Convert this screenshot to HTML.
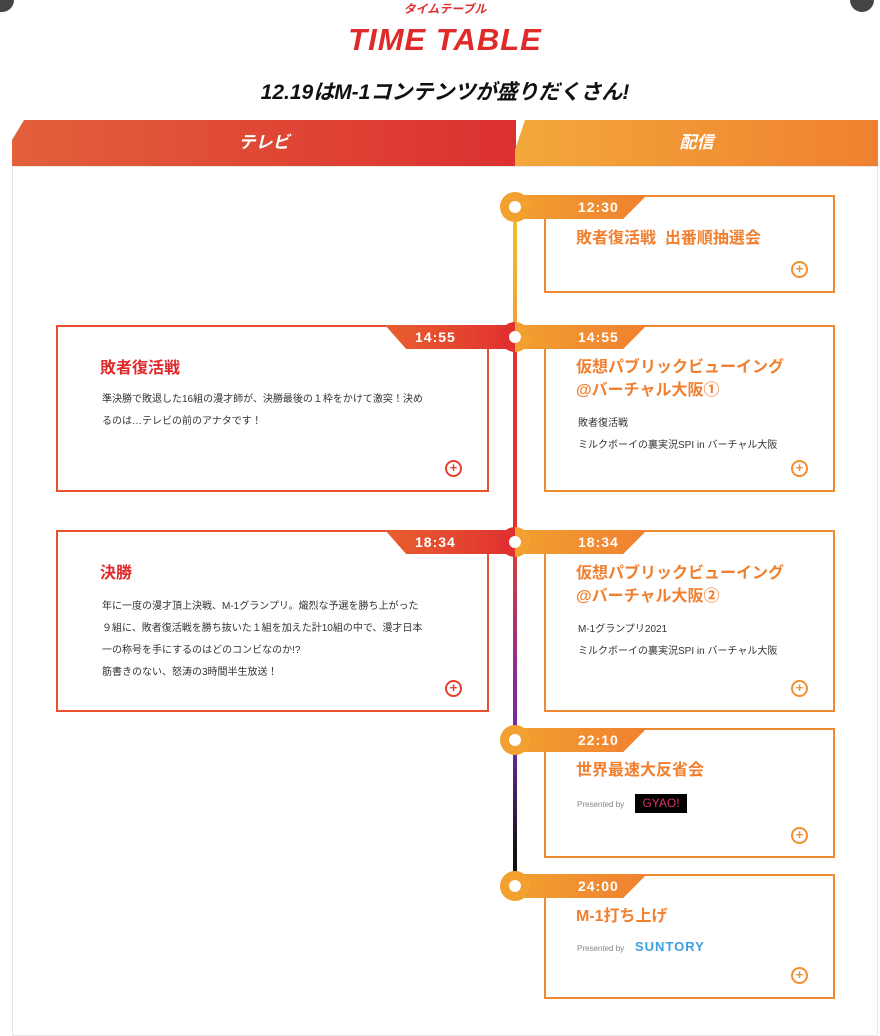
<!DOCTYPE html>
<html><head><meta charset="utf-8"><style>
*{margin:0;padding:0;box-sizing:border-box}
body{width:880px;height:1024px;background:#fff;position:relative;overflow:hidden;font-family:"Liberation Sans","Noto Sans CJK JP",sans-serif}
.a{position:absolute}
.card{position:absolute;border:2px solid #f08a30;background:#fff}
.lcard{border-color:#e8502f}
.tab{position:absolute;height:24px;color:#fff;font-weight:bold;font-size:14px;line-height:24px;letter-spacing:1px}
.rt{background:linear-gradient(90deg,#f2a030,#f08030);clip-path:polygon(0 0,100% 0,82% 100%,0 100%)}
.lt{background:linear-gradient(90deg,#e8602f,#e03030);clip-path:polygon(0 0,100% 0,100% 100%,16% 100%)}
.dot{position:absolute;width:30px;height:30px;border-radius:50%;background:#f2a030}
.dot:after{content:"";position:absolute;left:9px;top:9px;width:12px;height:12px;border-radius:50%;background:#fff}
.ttl{position:absolute;font-weight:bold;font-size:16px;color:#f08030;line-height:23px}
.lttl{color:#e02a2a}
.txt{position:absolute;font-size:10px;color:#333;line-height:22px}
.zoom{position:absolute;width:17px;height:17px;border:2px solid #f09030;border-radius:50%;font-size:13px;line-height:12px;text-align:center;color:#f09030;font-weight:bold}
.lz{border-color:#e8402f;color:#e8402f}
.pb{position:absolute;font-size:8px;color:#888}
</style></head><body>
<div class="a" style="left:-10px;top:-12px;width:24px;height:24px;border-radius:50%;background:#444"></div>
<div class="a" style="left:850px;top:-12px;width:24px;height:24px;border-radius:50%;background:#444"></div>
<div class="a" style="left:0;width:890px;top:0;text-align:center;font-size:12px;font-weight:bold;font-style:italic;color:#e03030">タイムテーブル</div>
<div class="a" style="left:0;width:890px;top:22px;text-align:center;font-size:31px;font-weight:900;font-style:italic;color:#e02a2a;letter-spacing:1px">TIME TABLE</div>
<div class="a" style="left:0;width:890px;top:76px;text-align:center;font-size:21px;font-weight:bold;font-style:italic;color:#111">12.19はM-1コンテンツが盛りだくさん!</div>
<div class="a" style="left:12px;top:166px;width:866px;height:870px;border:1px solid #e6e6e6;background:#fff"></div>
<div class="a" style="left:12px;top:120px;width:504px;height:46px;background:linear-gradient(90deg,#e2603a,#dc3030);clip-path:polygon(12px 0,100% 0,100% 100%,0 100%,0 20px);color:#fff;font-weight:bold;font-style:italic;font-size:17px;text-align:center;line-height:46px">テレビ</div>
<div class="a" style="left:515px;top:120px;width:363px;height:46px;background:linear-gradient(90deg,#f2a83a,#f08030);clip-path:polygon(10px 0,100% 0,100% 100%,0 100%,0 30px);color:#fff;font-weight:bold;font-style:italic;font-size:17px;text-align:center;line-height:46px">配信</div>
<div class="a" style="left:513px;top:207px;width:4px;height:130px;background:linear-gradient(#f2c030,#f0a030)"></div>
<div class="a" style="left:513px;top:337px;width:4px;height:205px;background:#e03030"></div>
<div class="a" style="left:513px;top:542px;width:4px;height:345px;background:linear-gradient(#e04030,#8a2a9a 40%,#6a2aa0 60%,#111 90%)"></div>
<div class="card" style="left:544px;top:195px;width:291px;height:98px"></div>
<div class="card" style="left:544px;top:325px;width:291px;height:167px"></div>
<div class="card" style="left:544px;top:530px;width:291px;height:182px"></div>
<div class="card" style="left:544px;top:728px;width:291px;height:130px"></div>
<div class="card" style="left:544px;top:874px;width:291px;height:125px"></div>
<div class="card lcard" style="left:56px;top:325px;width:433px;height:167px"></div>
<div class="card lcard" style="left:56px;top:530px;width:433px;height:182px"></div>
<div class="tab lt" style="left:385px;top:325px;width:132px;padding-left:30px">14:55</div>
<div class="tab lt" style="left:385px;top:530px;width:132px;padding-left:30px">18:34</div>
<div class="tab rt" style="left:515px;top:195px;width:132px;padding-left:63px">12:30</div>
<div class="tab rt" style="left:515px;top:325px;width:132px;padding-left:63px">14:55</div>
<div class="tab rt" style="left:515px;top:530px;width:132px;padding-left:63px">18:34</div>
<div class="tab rt" style="left:515px;top:728px;width:132px;padding-left:63px">22:10</div>
<div class="tab rt" style="left:515px;top:874px;width:132px;padding-left:63px">24:00</div>
<div class="dot" style="left:500px;top:192px"></div>
<div class="dot" style="left:500px;top:322px;background:linear-gradient(90deg,#e03030 50%,#f2a030 50%)"></div>
<div class="dot" style="left:500px;top:527px;background:linear-gradient(90deg,#e03030 50%,#f2a030 50%)"></div>
<div class="dot" style="left:500px;top:725px"></div>
<div class="dot" style="left:500px;top:871px"></div>
<div class="ttl" style="left:576px;top:227px">敗者復活戦&nbsp; 出番順抽選会</div>
<div class="ttl" style="left:576px;top:356px">仮想パブリックビューイング<br>@バーチャル大阪①</div>
<div class="txt" style="left:578px;top:413px">敗者復活戦<br>ミルクボーイの裏実況SPI in バーチャル大阪</div>
<div class="ttl" style="left:576px;top:562px">仮想パブリックビューイング<br>@バーチャル大阪②</div>
<div class="txt" style="left:578px;top:619px">M-1グランプリ2021<br>ミルクボーイの裏実況SPI in バーチャル大阪</div>
<div class="ttl" style="left:576px;top:759px">世界最速大反省会</div>
<div class="pb" style="left:577px;top:800px">Presented by</div>
<div class="a" style="left:635px;top:794px;width:52px;height:19px;background:#000;color:#e0306a;font-size:12px;text-align:center;line-height:19px">GYAO!</div>
<div class="ttl" style="left:576px;top:905px">M-1打ち上げ</div>
<div class="pb" style="left:577px;top:944px">Presented by</div>
<div class="a" style="left:635px;top:939px;color:#3aa0e0;font-weight:bold;font-size:13px;letter-spacing:1px">SUNTORY</div>
<div class="zoom" style="left:791px;top:261px">+</div>
<div class="zoom" style="left:791px;top:460px">+</div>
<div class="zoom" style="left:791px;top:680px">+</div>
<div class="zoom" style="left:791px;top:827px">+</div>
<div class="zoom" style="left:791px;top:967px">+</div>
<div class="ttl lttl" style="left:100px;top:357px">敗者復活戦</div>
<div class="txt" style="left:102px;top:389px;width:350px">準決勝で敗退した16組の漫才師が、決勝最後の１枠をかけて激突！決め<br>るのは…テレビの前のアナタです！</div>
<div class="ttl lttl" style="left:100px;top:562px">決勝</div>
<div class="txt" style="left:102px;top:596px;width:350px">年に一度の漫才頂上決戦、M-1グランプリ。熾烈な予選を勝ち上がった<br>９組に、敗者復活戦を勝ち抜いた１組を加えた計10組の中で、漫才日本<br>一の称号を手にするのはどのコンビなのか!?<br>筋書きのない、怒涛の3時間半生放送！</div>
<div class="zoom lz" style="left:445px;top:460px">+</div>
<div class="zoom lz" style="left:445px;top:680px">+</div>
</body></html>
